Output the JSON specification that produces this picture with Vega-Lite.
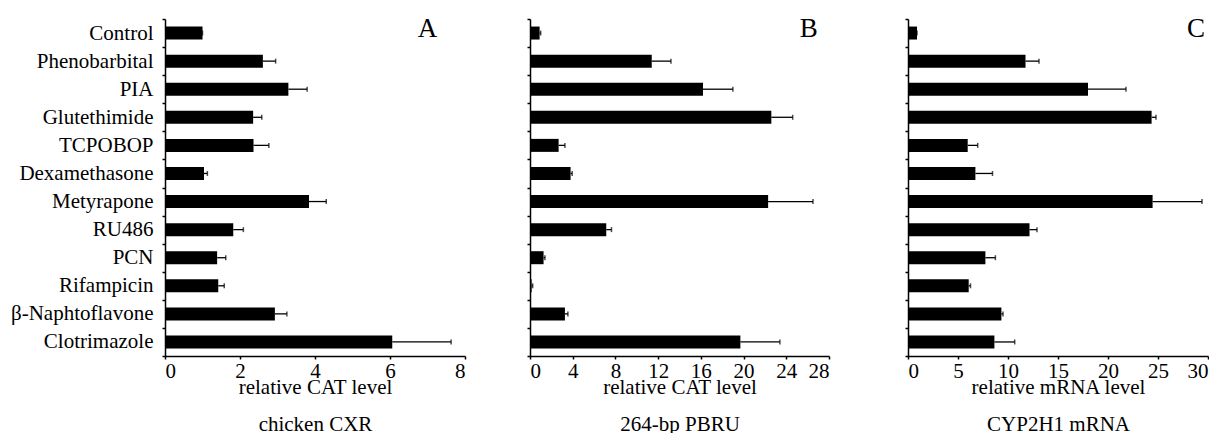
{
  "$schema": "https://vega.github.io/schema/vega-lite/v6.json",
  "padding": {"left": 10, "top": 8, "right": 0, "bottom": 0},
  "bounds": "flush",
  "spacing": 65,
  "config": {
    "view": {"stroke": null},
    "font": "Liberation Serif",
    "text": {"font": "Liberation Serif"},
    "axis": {"labelFont": "Liberation Serif", "titleFont": "Liberation Serif", "labelFontSize": 21, "titleFontSize": 21, "titleFontWeight": "normal", "labelColor": "black", "titleColor": "black", "domainColor": "black", "tickColor": "black", "domainWidth": 1.5, "tickWidth": 1.5, "grid": false},
    "axisX": {"labelFont": "Liberation Serif", "titleFont": "Liberation Serif"},
    "axisY": {"labelFont": "Liberation Serif", "titleFont": "Liberation Serif"}
  },
  "datasets": {
    "d": [
      {"panel": "A", "treatment": "Control", "value": 1.0, "err": 1.0},
      {"panel": "A", "treatment": "Phenobarbital", "value": 2.61, "err": 2.95},
      {"panel": "A", "treatment": "PIA", "value": 3.29, "err": 3.79},
      {"panel": "A", "treatment": "Glutethimide", "value": 2.35, "err": 2.58},
      {"panel": "A", "treatment": "TCPOBOP", "value": 2.36, "err": 2.77},
      {"panel": "A", "treatment": "Dexamethasone", "value": 1.04, "err": 1.13},
      {"panel": "A", "treatment": "Metyrapone", "value": 3.84, "err": 4.3},
      {"panel": "A", "treatment": "RU486", "value": 1.82, "err": 2.09},
      {"panel": "A", "treatment": "PCN", "value": 1.39, "err": 1.62},
      {"panel": "A", "treatment": "Rifampicin", "value": 1.42, "err": 1.58},
      {"panel": "A", "treatment": "β-Naphtoflavone", "value": 2.93, "err": 3.25},
      {"panel": "A", "treatment": "Clotrimazole", "value": 6.06, "err": 7.63},
      {"panel": "B", "treatment": "Control", "value": 0.9, "err": 1.0},
      {"panel": "B", "treatment": "Phenobarbital", "value": 11.4, "err": 13.2},
      {"panel": "B", "treatment": "PIA", "value": 16.2, "err": 19.0},
      {"panel": "B", "treatment": "Glutethimide", "value": 22.6, "err": 24.6},
      {"panel": "B", "treatment": "TCPOBOP", "value": 2.68, "err": 3.27},
      {"panel": "B", "treatment": "Dexamethasone", "value": 3.8, "err": 3.95},
      {"panel": "B", "treatment": "Metyrapone", "value": 22.3, "err": 26.5},
      {"panel": "B", "treatment": "RU486", "value": 7.14, "err": 7.63},
      {"panel": "B", "treatment": "PCN", "value": 1.27, "err": 1.4},
      {"panel": "B", "treatment": "Rifampicin", "value": 0.15, "err": 0.25},
      {"panel": "B", "treatment": "β-Naphtoflavone", "value": 3.27, "err": 3.55},
      {"panel": "B", "treatment": "Clotrimazole", "value": 19.7, "err": 23.4},
      {"panel": "C", "treatment": "Control", "value": 0.9, "err": 0.9},
      {"panel": "C", "treatment": "Phenobarbital", "value": 11.75, "err": 13.1},
      {"panel": "C", "treatment": "PIA", "value": 18.0, "err": 21.8},
      {"panel": "C", "treatment": "Glutethimide", "value": 24.36, "err": 24.8},
      {"panel": "C", "treatment": "TCPOBOP", "value": 5.97, "err": 6.97},
      {"panel": "C", "treatment": "Dexamethasone", "value": 6.74, "err": 8.45},
      {"panel": "C", "treatment": "Metyrapone", "value": 24.46, "err": 29.4},
      {"panel": "C", "treatment": "RU486", "value": 12.15, "err": 12.9},
      {"panel": "C", "treatment": "PCN", "value": 7.74, "err": 8.74},
      {"panel": "C", "treatment": "Rifampicin", "value": 6.07, "err": 6.25},
      {"panel": "C", "treatment": "β-Naphtoflavone", "value": 9.34, "err": 9.5},
      {"panel": "C", "treatment": "Clotrimazole", "value": 8.64, "err": 10.67}
    ]
  },
  "hconcat": [
    {
      "width": 300, "height": 337,
      "layer": [
        {
          "data": {"name": "d"},
          "transform": [{"filter": "datum.panel === 'A'"}],
          "mark": {"type": "bar", "color": "black", "size": 13},
          "encoding": {
            "y": {"field": "treatment", "type": "nominal", "sort": null, "scale": {"paddingInner": 0, "paddingOuter": 0}, "axis": {"title": null, "tickBand": "extent", "tickSize": 3, "labelPadding": 9, "labelFont": "Liberation Serif", "labelFontSize": 21}},
            "x": {"field": "value", "type": "quantitative", "scale": {"domain": [0, 8], "nice": false}, "axis": {"values": [0, 2, 4, 6, 8], "title": ["relative CAT level", "chicken CXR"], "titleLineHeight": 37, "titlePadding": -5, "tickSize": 3, "labelPadding": 1, "labelFont": "Liberation Serif", "titleFont": "Liberation Serif", "labelFontSize": 21, "titleFontSize": 21}}
          }
        },
        {
          "data": {"name": "d"},
          "transform": [{"filter": "datum.panel === 'A'"}],
          "mark": {"type": "rule", "color": "black", "strokeWidth": 1.3},
          "encoding": {"y": {"field": "treatment", "type": "nominal", "sort": null}, "x": {"field": "value", "type": "quantitative"}, "x2": {"field": "err"}}
        },
        {
          "data": {"name": "d"},
          "transform": [{"filter": "datum.panel === 'A'"}],
          "mark": {"type": "tick", "orient": "vertical", "color": "black", "size": 5, "thickness": 1.5},
          "encoding": {"y": {"field": "treatment", "type": "nominal", "sort": null}, "x": {"field": "err", "type": "quantitative"}}
        },
        {
          "data": {"values": [{"letter": "A"}]},
          "mark": {"type": "text", "fontSize": 27, "font": "Liberation Serif", "color": "black", "dy": -4},
          "encoding": {"x": {"datum": 7.0, "type": "quantitative"}, "y": {"datum": "Control", "type": "nominal"}, "text": {"field": "letter"}}
        }
      ]
    },
    {
      "width": 313, "height": 337,
      "layer": [
        {
          "data": {"name": "d"},
          "transform": [{"filter": "datum.panel === 'B'"}],
          "mark": {"type": "bar", "color": "black", "size": 13},
          "encoding": {
            "y": {"field": "treatment", "type": "nominal", "sort": null, "scale": {"paddingInner": 0, "paddingOuter": 0}, "axis": {"title": null, "labels": false, "tickBand": "extent", "tickSize": 3}},
            "x": {"field": "value", "type": "quantitative", "scale": {"domain": [0, 28], "nice": false, "range": [0, 299]}, "axis": {"values": [0, 4, 8, 12, 16, 20, 24, 28], "title": ["relative CAT level", "264-bp PBRU"], "titleLineHeight": 37, "titlePadding": -5, "tickSize": 3, "labelPadding": 1, "labelFont": "Liberation Serif", "titleFont": "Liberation Serif", "labelFontSize": 21, "titleFontSize": 21}}
          }
        },
        {
          "data": {"name": "d"},
          "transform": [{"filter": "datum.panel === 'B'"}],
          "mark": {"type": "rule", "color": "black", "strokeWidth": 1.3},
          "encoding": {"y": {"field": "treatment", "type": "nominal", "sort": null}, "x": {"field": "value", "type": "quantitative"}, "x2": {"field": "err"}}
        },
        {
          "data": {"name": "d"},
          "transform": [{"filter": "datum.panel === 'B'"}],
          "mark": {"type": "tick", "orient": "vertical", "color": "black", "size": 5, "thickness": 1.5},
          "encoding": {"y": {"field": "treatment", "type": "nominal", "sort": null}, "x": {"field": "err", "type": "quantitative"}}
        },
        {
          "data": {"values": [{"letter": "B"}]},
          "mark": {"type": "text", "fontSize": 27, "font": "Liberation Serif", "color": "black", "dy": -4},
          "encoding": {"x": {"datum": 26.1, "type": "quantitative"}, "y": {"datum": "Control", "type": "nominal"}, "text": {"field": "letter"}}
        }
      ]
    },
    {
      "width": 300, "height": 337,
      "layer": [
        {
          "data": {"name": "d"},
          "transform": [{"filter": "datum.panel === 'C'"}],
          "mark": {"type": "bar", "color": "black", "size": 13},
          "encoding": {
            "y": {"field": "treatment", "type": "nominal", "sort": null, "scale": {"paddingInner": 0, "paddingOuter": 0}, "axis": {"title": null, "labels": false, "tickBand": "extent", "tickSize": 3}},
            "x": {"field": "value", "type": "quantitative", "scale": {"domain": [0, 30], "nice": false}, "axis": {"values": [0, 5, 10, 15, 20, 25, 30], "title": ["relative mRNA level", "CYP2H1 mRNA"], "titleLineHeight": 37, "titlePadding": -5, "tickSize": 3, "labelPadding": 1, "labelFont": "Liberation Serif", "titleFont": "Liberation Serif", "labelFontSize": 21, "titleFontSize": 21}}
          }
        },
        {
          "data": {"name": "d"},
          "transform": [{"filter": "datum.panel === 'C'"}],
          "mark": {"type": "rule", "color": "black", "strokeWidth": 1.3},
          "encoding": {"y": {"field": "treatment", "type": "nominal", "sort": null}, "x": {"field": "value", "type": "quantitative"}, "x2": {"field": "err"}}
        },
        {
          "data": {"name": "d"},
          "transform": [{"filter": "datum.panel === 'C'"}],
          "mark": {"type": "tick", "orient": "vertical", "color": "black", "size": 5, "thickness": 1.5},
          "encoding": {"y": {"field": "treatment", "type": "nominal", "sort": null}, "x": {"field": "err", "type": "quantitative"}}
        },
        {
          "data": {"values": [{"letter": "C"}]},
          "mark": {"type": "text", "fontSize": 27, "font": "Liberation Serif", "color": "black", "dy": -4},
          "encoding": {"x": {"datum": 28.8, "type": "quantitative"}, "y": {"datum": "Control", "type": "nominal"}, "text": {"field": "letter"}}
        }
      ]
    }
  ]
}
